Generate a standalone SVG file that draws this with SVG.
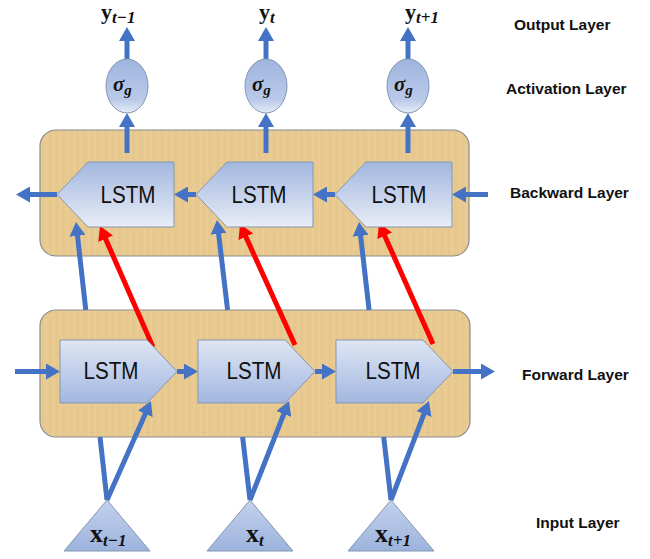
<svg xmlns="http://www.w3.org/2000/svg" width="650" height="559" viewBox="0 0 650 559">
<style>
.panel{stroke:#8c8c8c;stroke-width:1.2}
.fw{fill:url(#gFw);stroke:#8497b0;stroke-width:1}
.bw{fill:url(#gBw);stroke:#8497b0;stroke-width:1}
.sig{fill:url(#gSig);stroke:#8497b0;stroke-width:1}
.tri{fill:url(#gTri);stroke:#8497b0;stroke-width:1}
.lstm{font-family:"Liberation Sans",Arial,sans-serif;font-size:23px;fill:#111;text-anchor:middle}
.lab{font-family:"Liberation Sans",Arial,sans-serif;font-size:15.5px;font-weight:bold;fill:#111}
.m{font-family:"Liberation Serif","Times New Roman",serif;font-weight:bold;fill:#111}
.sub{font-style:italic;font-size:17px}
.b{fill:none;stroke:#4472c4;stroke-width:5}
.r{fill:none;stroke:#ff0000;stroke-width:5}
</style>
<defs>
<linearGradient id="gFw" x1="0" y1="0" x2="0" y2="1"><stop offset="0" stop-color="#dfe6f4"/><stop offset="1" stop-color="#a2b7df"/></linearGradient>
<linearGradient id="gBw" x1="0" y1="0" x2="0" y2="1"><stop offset="0" stop-color="#a2b7df"/><stop offset="1" stop-color="#e8edf7"/></linearGradient>
<linearGradient id="gSig" x1="0" y1="0" x2="0" y2="1"><stop offset="0" stop-color="#9fb4de"/><stop offset="0.75" stop-color="#b9c9e9"/><stop offset="1" stop-color="#e6ecf7"/></linearGradient>
<linearGradient id="gTri" x1="0" y1="0" x2="0" y2="1"><stop offset="0" stop-color="#c3d1ed"/><stop offset="1" stop-color="#9db3dd"/></linearGradient>
<pattern id="paper" width="7" height="5" patternUnits="userSpaceOnUse">
<rect width="7" height="5" fill="#e8ca90"/>
<rect x="0" y="0" width="1" height="5" fill="#dfbe82" opacity="0.35"/>
<rect x="4" y="0" width="1" height="5" fill="#efd7a6" opacity="0.35"/>
<rect x="0" y="2" width="7" height="1" fill="#e0bf83" opacity="0.25"/>
</pattern>
<marker id="ab" viewBox="0 -8 14 16" refX="1" refY="0" markerWidth="14" markerHeight="16" markerUnits="userSpaceOnUse" orient="auto"><path d="M0,-8 L14,0 L0,8 z" fill="#4472c4"/></marker>
<marker id="ar" viewBox="0 -8 14 16" refX="1" refY="0" markerWidth="14" markerHeight="16" markerUnits="userSpaceOnUse" orient="auto"><path d="M0,-8 L14,0 L0,8 z" fill="#ff0000"/></marker>
</defs>

<g id="backward-panel"><rect class="panel" x="40" y="130" width="429" height="126" rx="16" fill="url(#paper)"/></g>
<g id="forward-panel"><rect class="panel" x="40" y="310" width="430" height="127" rx="16" fill="url(#paper)"/></g>

<g id="connectors">
<line class="b" x1="107" y1="500" x2="100" y2="437"/>
<line class="b" x1="85.8" y1="310" x2="77.4" y2="234.9" marker-end="url(#ab)"/>
<line class="b" x1="250" y1="500" x2="242.6" y2="437"/>
<line class="b" x1="227.6" y1="310" x2="218.5" y2="232.9" marker-end="url(#ab)"/>
<line class="b" x1="391" y1="500" x2="383.7" y2="437"/>
<line class="b" x1="369.1" y1="310" x2="360.5" y2="234.9" marker-end="url(#ab)"/>
<line class="b" x1="107" y1="500" x2="145.7" y2="412.9" marker-end="url(#ab)"/>
<line class="b" x1="250" y1="500" x2="284.2" y2="413.1" marker-end="url(#ab)"/>
<line class="b" x1="391" y1="500" x2="424.3" y2="413.1" marker-end="url(#ab)"/>
<line class="b" x1="15" y1="371.5" x2="47" y2="371.5" marker-end="url(#ab)"/>
<line class="b" x1="177" y1="371.5" x2="185" y2="371.5" marker-end="url(#ab)"/>
<line class="b" x1="315" y1="371.5" x2="323" y2="371.5" marker-end="url(#ab)"/>
<line class="b" x1="453" y1="371.5" x2="482" y2="371.5" marker-end="url(#ab)"/>
<line class="b" x1="488" y1="194.5" x2="465" y2="194.5" marker-end="url(#ab)"/>
<line class="b" x1="335" y1="194.5" x2="326" y2="194.5" marker-end="url(#ab)"/>
<line class="b" x1="196" y1="194.5" x2="187" y2="194.5" marker-end="url(#ab)"/>
<line class="b" x1="57" y1="194.5" x2="29" y2="194.5" marker-end="url(#ab)"/>
<line class="r" x1="153" y1="347" x2="105.2" y2="237.9" marker-end="url(#ar)"/>
<line class="r" x1="295" y1="345" x2="245.4" y2="235.8" marker-end="url(#ar)"/>
<line class="r" x1="433" y1="344" x2="384.3" y2="234.9" marker-end="url(#ar)"/>
<line class="b" x1="127" y1="153" x2="127" y2="126" marker-end="url(#ab)"/>
<line class="b" x1="266" y1="153" x2="266" y2="126" marker-end="url(#ab)"/>
<line class="b" x1="408" y1="153" x2="408" y2="126" marker-end="url(#ab)"/>
<line class="b" x1="127" y1="59" x2="127" y2="40" marker-end="url(#ab)"/>
<line class="b" x1="266" y1="59" x2="266" y2="40" marker-end="url(#ab)"/>
<line class="b" x1="408" y1="59" x2="408" y2="40" marker-end="url(#ab)"/>
</g>

<g id="bw1"><polygon class="bw" points="57,194.5 88,162 174,162 174,227 88,227"/><text class="lstm" x="128" y="203" textLength="55" lengthAdjust="spacingAndGlyphs">LSTM</text></g>
<g id="bw2"><polygon class="bw" points="196,194.5 227,162 313,162 313,227 227,227"/><text class="lstm" x="259" y="203" textLength="55" lengthAdjust="spacingAndGlyphs">LSTM</text></g>
<g id="bw3"><polygon class="bw" points="335,194.5 366,162 452,162 452,227 366,227"/><text class="lstm" x="399" y="203" textLength="55" lengthAdjust="spacingAndGlyphs">LSTM</text></g>

<g id="fw1"><polygon class="fw" points="60,340 147,340 177,371.5 147,403 60,403"/><text class="lstm" x="111" y="379" textLength="55" lengthAdjust="spacingAndGlyphs">LSTM</text></g>
<g id="fw2"><polygon class="fw" points="198,340 285,340 315,371.5 285,403 198,403"/><text class="lstm" x="254" y="379" textLength="55" lengthAdjust="spacingAndGlyphs">LSTM</text></g>
<g id="fw3"><polygon class="fw" points="336,340 423,340 453,371.5 423,403 336,403"/><text class="lstm" x="393" y="379" textLength="55" lengthAdjust="spacingAndGlyphs">LSTM</text></g>

<g id="sig1"><ellipse class="sig" cx="127" cy="86" rx="21" ry="27"/><text class="m" x="113" y="91" font-size="21" font-style="italic">σ<tspan font-size="15" dy="4">g</tspan></text></g>
<g id="sig2"><ellipse class="sig" cx="266" cy="86" rx="21" ry="27"/><text class="m" x="252" y="91" font-size="21" font-style="italic">σ<tspan font-size="15" dy="4">g</tspan></text></g>
<g id="sig3"><ellipse class="sig" cx="408" cy="86" rx="21" ry="27"/><text class="m" x="394" y="91" font-size="21" font-style="italic">σ<tspan font-size="15" dy="4">g</tspan></text></g>

<g id="y1"><text class="m" x="101" y="19" font-size="22">y<tspan class="sub" dy="4">t−1</tspan></text></g>
<g id="y2"><text class="m" x="259" y="19" font-size="22">y<tspan class="sub" dy="4">t</tspan></text></g>
<g id="y3"><text class="m" x="405" y="19" font-size="22">y<tspan class="sub" dy="4">t+1</tspan></text></g>

<g id="x1"><polygon class="tri" points="107,500 150,551 64,551"/><text class="m" x="90" y="542" font-size="26">x<tspan class="sub" dy="4">t−1</tspan></text></g>
<g id="x2"><polygon class="tri" points="250,500 293,551 207,551"/><text class="m" x="246" y="542" font-size="26">x<tspan class="sub" dy="4">t</tspan></text></g>
<g id="x3"><polygon class="tri" points="391,500 434,551 348,551"/><text class="m" x="375" y="542" font-size="26">x<tspan class="sub" dy="4">t+1</tspan></text></g>

<g id="labels">
<text class="lab" x="514" y="30">Output Layer</text>
<text class="lab" x="506" y="94">Activation Layer</text>
<text class="lab" x="510" y="198">Backward Layer</text>
<text class="lab" x="522" y="380">Forward Layer</text>
<text class="lab" x="536" y="528">Input Layer</text>
</g>
</svg>
